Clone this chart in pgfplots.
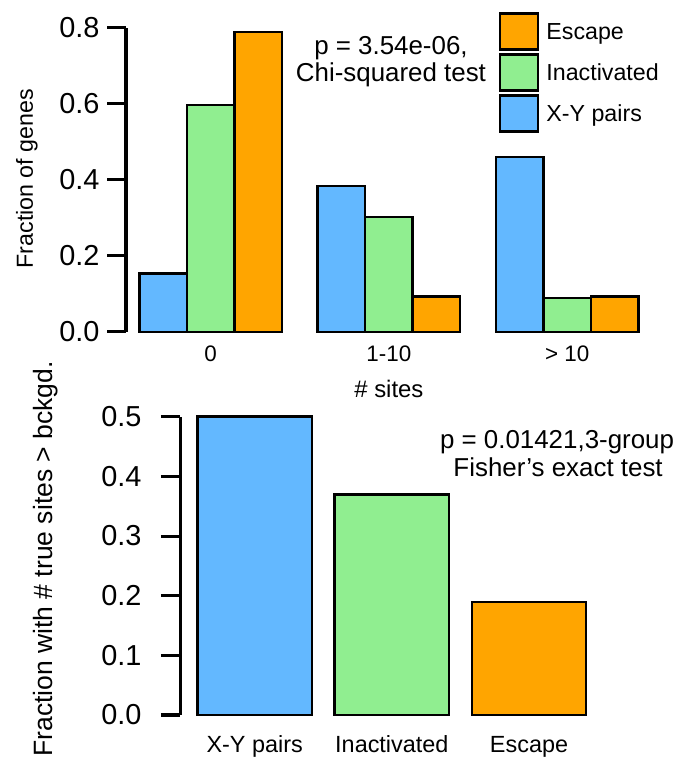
\documentclass[border=0pt]{standalone}
\usepackage{fontspec}
\setmainfont{Liberation Sans}
\usepackage{pgfplots}
\pgfplotsset{compat=1.18}
\definecolor{cblue}{HTML}{63B8FF}
\definecolor{cgreen}{HTML}{90EE90}
\definecolor{corange}{HTML}{FFA500}
\pgfplotsset{
  legbox/.style={legend image code/.code={\draw[##1,line width=2.5bp] (0bp,-10bp) rectangle (38bp,26bp); \path (45bp,0bp);}},
  rstyle/.style={
    scale only axis, clip=false,
    axis y line*=left, axis x line*=bottom,
    x axis line style={draw=none},
    y axis line style={line width=3bp},
    tick align=outside,
    major tick length=19bp,
    ytick style={line width=3bp, black},
    xtick style={draw=none},
    yticklabel style={anchor=east, /pgf/number format/fixed, /pgf/number format/fixed zerofill, /pgf/number format/precision=1, /pgf/number format/assume math mode=true},
  },
  rbar/.style={ybar, bar width=1, bar shift=0pt, draw=black, line width=2.5bp, fill=#1},
}
\begin{document}
\begin{tikzpicture}
\useasboundingbox (0,0) rectangle (681bp,758bp);
% ---------- top panel ----------
\begin{axis}[rstyle,
  at={(126bp,426bp)}, anchor=south west,
  width=512.5bp, height=304bp,
  xmin=-0.78, xmax=10, ymin=0, ymax=0.8,
  ytick={0,0.2,0.4,0.6,0.8},
  yticklabel style={font=\fontsize{29}{32}\selectfont, xshift=-4bp},
  xtick={1,4.75,8.5}, xticklabels={0,1-10,> 10},
  xticklabel style={font=\fontsize{22.5}{26}\selectfont, anchor=base, yshift=-10.7bp},
  xlabel={\# sites},
  xlabel style={at={(rel axis cs:0.513,-0.2148)}, anchor=base, font=\fontsize{24}{28}\selectfont},
  ylabel={Fraction of genes},
  ylabel style={at={(rel axis cs:-0.1815,0.5043)}, anchor=base, font=\fontsize{23.3}{26}\selectfont},
  reverse legend,
  legend style={at={(axis cs:7.06,0.842)}, anchor=north west, draw=none, fill=none,
    inner sep=0pt, row sep=2.5bp, nodes={inner sep=0pt}, cells={anchor=base west},
    font=\fontsize{23.3}{28}\selectfont},
]
\addplot[rbar=cblue, legbox] coordinates {(0,0.154) (3.75,0.384) (7.5,0.461)};
\addlegendentry{X-Y pairs}
\addplot[rbar=cgreen, legbox] coordinates {(1,0.598) (4.75,0.303) (8.5,0.089)};
\addlegendentry{Inactivated}
\addplot[rbar=corange, legbox] coordinates {(2,0.789) (5.75,0.093) (9.5,0.093)};
\addlegendentry{Escape}
\node[anchor=base, font=\fontsize{26}{30}\selectfont] at (axis cs:4.793,0.729) {p = 3.54e-06,};
\node[anchor=base, font=\fontsize{26}{30}\selectfont] at (axis cs:4.793,0.659) {Chi-squared test};
\end{axis}
% ---------- bottom panel ----------
\begin{axis}[rstyle,
  at={(180bp,43bp)}, anchor=south west,
  width=406.2bp, height=298.3bp,
  xmin=-0.653, xmax=2.9, ymin=0, ymax=0.5,
  ytick={0,0.1,0.2,0.3,0.4,0.5},
  yticklabel style={font=\fontsize{29}{32}\selectfont, xshift=-16bp},
  xtick={0,1.2,2.4}, xticklabels={X-Y pairs,Inactivated,Escape},
  xticklabel style={font=\fontsize{23.5}{27}\selectfont, anchor=base, yshift=-18bp},
  ylabel={Fraction with \# true sites > bckgd.},
  ylabel style={at={(rel axis cs:-0.3127,0.523)}, anchor=base, font=\fontsize{26.6}{30}\selectfont},
]
\addplot[rbar=cblue] coordinates {(0,0.5)};
\addplot[rbar=cgreen] coordinates {(1.2,0.370)};
\addplot[rbar=corange] coordinates {(2.4,0.189)};
\node[anchor=base, font=\fontsize{26}{30}\selectfont] at (axis cs:2.645,0.447) {p = 0.01421,3-group};
\node[anchor=base, font=\fontsize{26}{30}\selectfont] at (axis cs:2.654,0.3994) {Fisher’s exact test};
\end{axis}
\end{tikzpicture}
\end{document}
